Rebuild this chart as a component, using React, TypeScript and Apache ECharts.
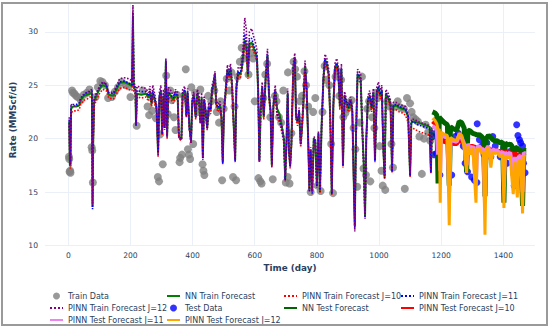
import React, { useEffect, useRef } from "react";
import * as echarts from "echarts";

// ---------- data ----------
const xTicks = [0, 200, 400, 600, 800, 1000, 1200, 1400];
const yTicks = [10, 15, 20, 25, 30];

const trainDays = [
  3, 5, 7, 9, 15, 25, 35, 40, 50, 60,
  70, 76, 78, 80, 83, 90, 100, 110, 122, 130,
  145, 155, 165, 180, 195, 205, 208, 211, 216, 218,
  221, 235, 250, 258, 263, 268, 272, 278, 284, 289,
  293, 298, 302, 306, 310, 314, 318, 322, 330, 338,
  345, 352, 356, 364, 368, 375, 380, 384, 390, 395,
  399, 404, 410, 415, 420, 425, 429, 433, 437, 442,
  447, 452, 458, 463, 468, 472, 476, 482, 488, 493,
  497, 501, 506, 512, 517, 522, 527, 532, 537, 541,
  547, 553, 558, 563, 568, 573, 578, 583, 590, 596,
  602, 607, 611, 615, 619, 624, 629, 635, 641, 646,
  651, 655, 660, 666, 672, 680, 688, 694, 698, 702,
  706, 710, 714, 718, 724, 729, 733, 738, 743, 748,
  752, 757, 762, 767, 772, 776, 780, 785, 790, 795,
  800, 805, 810, 815, 821, 826, 832, 838, 843, 848,
  853, 858, 864, 869, 874, 879, 884, 889, 895, 902,
  908, 914, 918, 922, 926, 931, 936, 941, 946, 951,
  955, 959, 964, 970, 976, 982, 987, 993, 998, 1004,
  1009, 1014, 1018, 1022, 1030, 1037, 1042, 1046, 1055, 1065,
  1075, 1085, 1094, 1100, 1104, 1115, 1125, 1135, 1145, 1155,
  1163, 1167, 1170,
];

const nnTrain = [
  21.6, 17.6, 17.4, 22.8, 23.0, 23.0, 23.1, 23.6, 24.0, 24.1,
  24.2, 24.3, 13.6, 19.5, 23.4, 24.0, 24.6, 25.0, 24.9, 24.1,
  24.0, 24.6, 25.2, 25.3, 25.1, 24.9, 31.5, 24.7, 24.6, 21.3,
  24.2, 24.1, 24.2, 23.8, 24.3, 23.2, 24.3, 23.6, 22.8, 18.6,
  23.8, 24.4, 20.5, 24.0, 21.0, 27.2, 20.2, 24.3, 24.0, 23.6,
  24.2, 23.9, 20.2, 20.0, 24.2, 24.5, 22.2, 24.3, 21.0, 19.8,
  23.5, 24.0, 22.0, 24.2, 23.8, 21.6, 23.8, 18.2, 23.6, 22.5,
  21.0, 23.0, 22.6, 24.5, 25.2, 26.0, 23.2, 22.8, 23.1, 22.0,
  17.8, 22.5, 24.2, 26.4, 25.8, 26.5, 25.0, 21.5, 18.0, 24.8,
  26.2, 26.0, 26.5, 27.8, 29.2, 28.5, 25.8, 28.8, 29.0, 28.5,
  28.0, 27.5, 24.5, 18.0, 22.5, 24.8, 22.0, 25.5, 27.8, 24.0,
  22.5, 17.5, 23.0, 24.5, 22.8, 22.3, 21.0, 20.0, 16.2, 19.5,
  24.2, 19.0, 17.5, 19.5, 26.5, 27.5, 22.0, 21.5, 22.5, 19.5,
  21.0, 23.5, 26.8, 24.5, 20.0, 15.2, 19.0, 15.0, 20.0, 19.8,
  15.6, 20.5, 15.1, 21.0, 25.5, 27.4, 27.0, 26.0, 22.0, 14.9,
  23.0, 26.5, 27.0, 26.2, 23.0, 26.5, 17.5, 24.0, 23.3, 22.8,
  23.5, 22.6, 17.0, 11.8, 20.5, 26.0, 25.8, 25.5, 21.0, 17.5,
  12.7, 20.0, 23.5, 24.0, 22.8, 24.2, 18.0, 24.3, 24.8, 24.0,
  24.5, 19.0, 16.4, 24.2, 23.8, 23.2, 17.0, 23.0, 23.1, 22.9,
  22.8, 22.7, 22.0, 16.6, 21.5, 21.6, 21.5, 21.4, 21.3, 21.2,
  21.1, 16.9, 21.0,
];

const pinnTrain10 = [
  21.2, 17.4, 17.2, 22.4, 22.6, 22.6, 22.7, 23.2, 23.6, 23.7,
  23.9, 23.9, 14.0, 19.2, 23.0, 23.6, 24.2, 24.6, 24.5, 23.8,
  23.7, 24.2, 24.7, 24.8, 24.6, 24.5, 30.5, 24.3, 24.2, 21.5,
  23.9, 23.8, 23.9, 23.5, 24.0, 23.0, 24.0, 23.3, 22.5, 18.3,
  23.5, 24.1, 20.3, 23.8, 20.8, 26.8, 20.0, 24.0, 23.7, 23.3,
  23.9, 23.6, 20.0, 19.8, 23.9, 24.2, 22.0, 24.0, 20.8, 19.6,
  23.2, 23.7, 21.8, 23.9, 23.5, 21.4, 23.5, 18.0, 23.3, 22.2,
  20.8, 22.7, 22.3, 24.2, 24.9, 25.6, 22.9, 22.5, 22.8, 21.8,
  17.6, 22.2, 23.9, 26.0, 25.5, 26.1, 24.7, 21.3, 17.8, 24.5,
  25.9, 25.7, 26.2, 27.4, 28.8, 28.2, 25.6, 28.5, 28.7, 28.2,
  27.7, 27.2, 24.2, 17.8, 22.2, 24.5, 21.8, 25.2, 27.4, 23.7,
  22.3, 17.3, 22.7, 24.2, 22.0, 21.5, 20.5, 19.5, 16.0, 19.0,
  23.8, 18.7, 17.2, 19.2, 26.1, 27.1, 21.7, 21.2, 22.2, 19.2,
  20.7, 23.2, 26.4, 24.2, 19.7, 15.0, 18.7, 14.8, 19.7, 19.5,
  15.4, 20.2, 14.9, 20.7, 25.1, 27.0, 26.6, 25.7, 21.7, 14.7,
  22.7, 26.1, 26.6, 25.9, 22.7, 26.1, 17.3, 23.7, 23.0, 22.5,
  23.2, 22.3, 16.8, 12.0, 20.2, 25.6, 25.4, 25.2, 20.8, 17.3,
  12.9, 19.7, 23.2, 23.7, 22.5, 23.9, 17.8, 24.0, 24.5, 23.7,
  24.2, 18.8, 16.2, 23.9, 23.5, 22.9, 16.8, 22.7, 22.7, 22.5,
  22.4, 22.2, 21.5, 16.4, 21.0, 20.9, 20.7, 20.6, 20.5, 20.4,
  20.3, 16.7, 20.2,
];

const pinnTrain11 = [
  21.8, 17.8, 17.6, 23.1, 23.2, 23.2, 23.3, 23.8, 24.1, 24.3,
  24.4, 24.5, 13.4, 19.8, 23.6, 24.2, 24.8, 25.2, 25.1, 24.3,
  24.2, 24.8, 25.3, 25.4, 25.2, 25.0, 31.8, 24.9, 24.8, 21.2,
  24.5, 24.4, 24.4, 24.0, 24.5, 23.4, 24.5, 23.8, 23.0, 18.5,
  24.0, 24.6, 20.4, 24.2, 21.0, 27.3, 20.1, 24.4, 24.1, 23.8,
  24.4, 24.0, 20.1, 19.9, 24.3, 24.6, 22.1, 24.4, 20.9, 19.7,
  23.6, 24.1, 22.0, 24.3, 23.9, 21.5, 23.9, 18.1, 23.7, 22.6,
  20.9, 23.1, 22.7, 24.6, 25.3, 26.1, 23.3, 22.9, 23.2, 22.0,
  17.7, 22.6, 24.3, 26.5, 25.9, 26.6, 25.1, 21.4, 17.9, 24.9,
  26.3, 26.1, 26.6, 28.0, 29.8, 28.9, 26.0, 29.2, 29.4, 28.8,
  28.3, 27.8, 24.6, 17.9, 22.6, 24.9, 22.1, 25.6, 27.9, 24.1,
  22.6, 17.4, 23.1, 24.6, 22.3, 21.8, 20.8, 19.8, 16.1, 19.3,
  24.3, 18.9, 17.4, 19.4, 26.6, 27.6, 22.1, 21.6, 22.6, 19.4,
  21.1, 23.6, 26.9, 24.6, 19.9, 15.1, 18.9, 14.9, 19.9, 19.7,
  15.5, 20.4, 15.0, 21.0, 25.6, 27.5, 27.1, 26.1, 22.0, 14.8,
  23.1, 26.6, 27.1, 26.3, 23.1, 26.6, 17.4, 24.1, 23.4, 22.9,
  23.6, 22.7, 16.9, 11.7, 20.4, 26.1, 25.9, 25.6, 21.0, 17.4,
  12.6, 19.9, 23.6, 24.1, 22.9, 24.3, 17.9, 24.4, 24.9, 24.1,
  24.6, 18.9, 16.3, 24.3, 23.9, 23.3, 16.9, 23.1, 23.2, 23.0,
  22.9, 22.8, 22.1, 16.5, 21.6, 21.5, 21.3, 21.2, 21.1, 21.0,
  20.9, 16.8, 20.8,
];

const pinnTrain12 = [
  22.0, 17.5, 17.5, 23.2, 23.1, 23.0, 23.2, 23.7, 24.2, 24.3,
  24.5, 24.6, 13.8, 19.6, 23.5, 24.2, 24.9, 25.3, 25.1, 24.4,
  24.3, 24.9, 25.6, 25.7, 25.6, 25.4, 32.5, 25.2, 25.0, 21.2,
  24.9, 24.8, 24.7, 24.3, 24.9, 23.5, 25.0, 24.2, 23.2, 18.8,
  24.3, 25.0, 20.6, 24.6, 21.2, 27.5, 20.3, 24.8, 24.5, 24.0,
  24.6, 24.3, 20.0, 19.9, 24.6, 24.9, 22.0, 24.7, 20.8, 19.6,
  23.9, 24.4, 22.2, 24.6, 24.2, 21.5, 24.3, 18.3, 24.0, 22.8,
  21.0, 23.4, 23.0, 25.0, 25.6, 26.3, 23.6, 23.2, 23.5, 22.2,
  17.9, 22.9, 24.7, 26.9, 26.2, 27.0, 25.4, 21.5, 18.1, 25.3,
  26.7, 26.6, 27.2, 28.8, 31.3, 30.2, 26.4, 30.0, 30.3, 29.6,
  29.0, 28.3, 24.9, 17.8, 22.9, 25.3, 22.3, 26.0, 28.4, 24.4,
  22.8, 17.6, 23.4, 25.0, 22.5, 22.0, 21.2, 20.0, 16.3, 19.6,
  24.7, 19.1, 17.6, 19.7, 27.0, 28.0, 22.3, 21.8, 22.9, 19.6,
  21.3, 24.0, 27.3, 25.0, 20.1, 15.3, 19.2, 15.1, 20.2, 20.0,
  15.7, 20.7, 15.2, 21.3, 26.0, 27.9, 27.5, 26.5, 22.2, 15.0,
  23.4, 27.0, 27.5, 26.7, 23.4, 27.0, 17.6, 24.4, 23.7, 23.2,
  23.9, 23.0, 17.0, 11.3, 20.6, 26.5, 26.3, 26.0, 21.2, 17.6,
  12.5, 20.1, 24.0, 24.5, 23.2, 24.7, 18.1, 24.8, 25.3, 24.5,
  25.0, 19.1, 16.5, 24.6, 24.2, 23.6, 17.1, 23.4, 23.4, 23.2,
  23.1, 23.0, 22.3, 16.7, 21.8, 21.8, 21.6, 21.5, 21.4, 21.3,
  21.2, 17.0, 21.1,
];

const testDays = [
  1172, 1180, 1186, 1190, 1194, 1197, 1200, 1210, 1220, 1226,
  1230, 1240, 1250, 1258, 1266, 1274, 1282, 1286, 1294, 1302,
  1312, 1316, 1322, 1330, 1336, 1341, 1345, 1352, 1360, 1366,
  1372, 1380, 1390, 1398, 1402, 1406, 1414, 1422, 1428, 1432,
  1438, 1445, 1450, 1456, 1462, 1466, 1470,
];

const nnTest = [
  22.5, 22.4, 22.2, 15.8, 22.0, 21.9, 21.8, 21.5, 21.3, 15.6,
  21.1, 20.9, 20.8, 21.6, 21.5, 21.0, 16.9, 20.8, 20.7, 20.5,
  20.4, 20.3, 20.4, 20.2, 20.0, 14.6, 20.0, 20.3, 20.1, 19.9,
  19.8, 19.8, 19.6, 19.7, 14.0, 19.6, 19.4, 19.5, 19.3, 16.5,
  19.2, 19.1, 18.9, 19.0, 13.7, 19.0, 18.9,
];

const pinnTest10 = [
  21.6, 21.4, 21.2, 20.3, 20.0, 19.8, 19.7, 19.7, 19.6, 19.2,
  19.6, 19.5, 19.5, 19.8, 19.7, 19.4, 19.0, 19.4, 19.3, 19.3,
  19.2, 19.1, 19.2, 19.1, 19.0, 18.5, 19.0, 19.1, 19.0, 18.9,
  18.9, 18.9, 18.8, 18.8, 18.4, 18.8, 18.7, 18.7, 18.6, 18.4,
  18.6, 18.5, 18.5, 18.5, 18.0, 18.5, 18.4,
];

const pinnTest11 = [
  21.2, 21.0, 20.8, 18.5, 20.6, 17.0, 20.4, 20.2, 20.1, 15.0,
  19.9, 19.8, 19.7, 20.3, 20.1, 19.5, 17.5, 19.5, 19.0, 19.3,
  16.0, 19.2, 19.3, 19.0, 19.0, 14.0, 19.0, 19.3, 18.0, 19.0,
  18.9, 18.9, 18.6, 18.8, 15.5, 18.7, 18.5, 18.7, 17.5, 16.0,
  18.3, 16.5, 18.3, 18.4, 15.0, 18.7, 18.6,
];

const pinnTest12 = [
  21.9, 21.7, 21.4, 20.8, 20.9, 14.0, 20.6, 20.4, 20.3, 11.9,
  20.1, 19.9, 19.8, 20.5, 20.3, 19.2, 16.8, 19.4, 18.5, 19.2,
  14.0, 19.0, 19.1, 18.6, 18.8, 11.0, 18.9, 19.2, 17.3, 18.8,
  18.6, 18.7, 18.3, 18.5, 13.5, 18.4, 18.2, 18.4, 16.2, 14.8,
  17.8, 14.5, 17.9, 18.0, 13.0, 18.4, 18.3,
];

const trainDataDays = [
  2, 3, 4, 6, 7, 12, 15, 20, 25, 30,
  40, 50, 60, 68, 75, 77, 79, 88, 95, 103,
  110, 118, 128, 140, 150, 160, 172, 185, 195, 200,
  220, 240, 255, 260, 270, 282, 288, 292, 296, 304,
  315, 320, 328, 333, 340, 345, 350, 358, 360, 366,
  372, 378, 385, 388, 392, 396, 402, 408, 412, 418,
  425, 432, 435, 438, 445, 450, 460, 470, 478, 485,
  490, 495, 500, 510, 518, 525, 530, 535, 540, 545,
  552, 558, 565, 575, 580, 588, 595, 600, 612, 618,
  622, 628, 634, 640, 650, 658, 665, 670, 678, 685,
  692, 700, 706, 707, 712, 718, 725, 730, 736, 745,
  752, 760, 765, 772, 780, 788, 795, 802, 812, 818,
  825, 830, 840, 846, 852, 860, 866, 872, 878, 885,
  892, 898, 905, 912, 918, 924, 930, 938, 945, 950,
  958, 962, 968, 972, 978, 985, 990, 996, 1002, 1008,
  1012, 1020, 1026, 1034, 1040, 1045, 1052, 1060, 1070, 1080,
  1083, 1090, 1100, 1105, 1110, 1118, 1125, 1130, 1138, 1145,
  1150, 1158, 1165,
];

const trainDataRates = [
  18.3, 18.1, 16.9, 17.0, 16.8, 24.5, 24.3, 24.2, 24.0, 23.9,
  23.6, 24.1, 24.3, 24.6, 19.2, 18.9, 15.9, 23.9, 24.8, 25.4,
  25.3, 25.0, 23.8, 23.9, 24.4, 24.8, 25.3, 25.0, 24.9, 23.9,
  21.2, 24.5, 23.0, 22.2, 22.6, 21.9, 16.4, 16.0, 20.4, 17.6,
  25.9, 22.3, 24.5, 23.6, 22.0, 20.8, 24.1, 17.8, 18.2, 18.5,
  24.0, 26.5, 19.0, 18.5, 18.1, 24.8, 19.5, 24.3, 23.5, 22.5,
  24.6, 17.6, 17.0, 16.6, 22.3, 24.0, 23.5, 24.5, 22.5, 21.5,
  23.5, 16.1, 22.8, 25.6, 24.5, 26.2, 16.4, 23.0, 16.1, 25.8,
  27.2, 28.5, 27.5, 28.6, 26.0, 28.0, 27.5, 23.5, 16.3, 16.0,
  15.8, 23.8, 26.0, 27.0, 22.0, 16.2, 24.0, 23.5, 22.0, 21.5,
  24.5, 15.9, 16.4, 26.2, 15.8, 20.5, 27.2, 26.5, 25.8, 23.5,
  24.0, 26.3, 25.0, 23.0, 15.0, 22.5, 23.8, 15.6, 15.1, 22.5,
  26.8, 25.5, 25.0, 19.5, 14.9, 25.8, 26.3, 24.0, 25.5, 22.0,
  22.4, 22.8, 23.3, 23.6, 21.0, 19.0, 15.5, 21.5, 25.8, 17.2,
  16.6, 22.8, 23.5, 16.0, 22.0, 21.0, 24.3, 23.8, 19.3, 17.0,
  15.6, 15.2, 23.5, 23.0, 19.5, 17.3, 23.0, 23.5, 22.9, 22.8,
  15.3, 23.8, 23.3, 22.5, 22.0, 21.8, 21.6, 20.2, 16.7, 20.0,
  21.3, 20.6, 19.8,
];

const testDataDays = [
  1173, 1177, 1181, 1185, 1196, 1207, 1234, 1245, 1255, 1266,
  1271, 1277, 1285, 1298, 1307, 1315, 1316, 1323, 1331, 1338,
  1347, 1360, 1366, 1374, 1390, 1401, 1412, 1422, 1435, 1438,
  1443, 1447, 1452, 1456, 1462, 1465, 1470,
];

const testDataRates = [
  20.2, 18.5, 20.5, 18.6, 16.6, 20.0, 16.6, 20.2, 20.5, 19.9,
  19.3, 17.7, 16.9, 16.4, 16.1, 15.9, 21.4, 19.9, 19.3, 18.5,
  19.6, 18.3, 20.2, 19.3, 18.3, 19.1, 17.7, 18.8, 15.6, 16.1,
  21.3, 20.3, 19.9, 19.6, 19.3, 17.7, 16.8,
];

const legendColumns = [
  ["Train Data", "PINN Train Forecast J=12", "PINN Test Forecast J=11"],
  ["NN Train Forecast", "Test Data", "PINN Test Forecast J=12"],
  ["PINN Train Forecast J=10", "NN Test Forecast"],
  ["PINN Train Forecast J=11", "PINN Test Forecast J=10"],
];
const legendLefts = [49, 166, 283, 400];
const markerNames = ["Train Data", "Test Data"];

// ---------- helpers ----------
const pair = (xs: number[], ys: number[]) => xs.map((x, i) => [x, ys[i]]);
const TEXT = "#2a3f5f";
const GRID = "#EBF0F8";
const FONT = "'DejaVu Sans', Verdana, sans-serif";

function lineSeries(name: string, data: number[][], color: string, width: number, type: string) {
  return {
    name,
    type: "line",
    data,
    symbol: "none",
    showSymbol: false,
    lineStyle: { color, width, type },
    itemStyle: { color },
    emphasis: { disabled: true },
  };
}

export default function App() {
  const ref = useRef<HTMLDivElement>(null);
  useEffect(() => {
    if (!ref.current) return;
    const chart = echarts.init(ref.current, undefined, { renderer: "svg" });
    chart.setOption({
      animation: false,
      backgroundColor: "#ffffff",
      grid: { left: 45, right: 15, top: 4, bottom: 82 },
      xAxis: {
        type: "value",
        min: -75,
        max: 1502,
        name: "Time (day)",
        nameLocation: "middle",
        nameGap: 17,
        nameTextStyle: { color: TEXT, fontSize: 8.8, fontWeight: "bold", fontFamily: FONT },
        axisLine: { show: false },
        axisTick: { show: false, customValues: xTicks },
        axisLabel: {
          customValues: xTicks,
          formatter: (v: number) => String(v),
          color: TEXT,
          fontSize: 7.6,
          fontFamily: FONT,
          margin: 5,
        },
        splitLine: { show: true, lineStyle: { color: GRID, width: 1 } },
      },
      yAxis: {
        type: "value",
        min: 9.95,
        max: 32.6,
        name: "Rate (MMScf/d)",
        nameLocation: "middle",
        nameGap: 21,
        nameTextStyle: {
          color: TEXT,
          fontSize: 8.8,
          fontWeight: "bold",
          fontFamily: FONT,
          padding: [0, 0, 0, 10],
        },
        axisLine: { show: false },
        axisTick: { show: false, customValues: yTicks },
        axisLabel: {
          customValues: yTicks,
          formatter: (v: number) => String(v),
          color: TEXT,
          fontSize: 7.6,
          fontFamily: FONT,
          margin: 7,
        },
        splitLine: { show: true, lineStyle: { color: GRID, width: 1 } },
      },
      legend: legendColumns.map((names, i) => ({
        data: names.map((n) =>
          markerNames.includes(n) ? { name: n } : { name: n, itemStyle: { opacity: 0 } }
        ),
        orient: "vertical",
        left: legendLefts[i],
        top: 290,
        padding: 0,
        itemGap: 0,
        itemWidth: 13,
        itemHeight: 7,
        selectedMode: false,
        textStyle: { color: TEXT, fontSize: 8, lineHeight: 12, fontFamily: FONT },
      })),
      graphic: [
        {
          type: "rect",
          silent: true,
          z: 100,
          shape: { x: 2, y: 3, width: 545, height: 322 },
          style: { fill: "none", stroke: "#9a9a9a", lineWidth: 2 },
        },
      ],
      series: [
        {
          name: "Train Data",
          type: "scatter",
          data: pair(trainDataDays, trainDataRates),
          symbolSize: 8,
          itemStyle: { color: "#808080" },
          emphasis: { disabled: true },
        },
        lineSeries("NN Train Forecast", pair(trainDays, nnTrain), "#008000", 2, "solid"),
        lineSeries("PINN Train Forecast J=10", pair(trainDays, pinnTrain10), "#ff0000", 1.6, "dotted"),
        lineSeries("PINN Train Forecast J=11", pair(trainDays, pinnTrain11), "#0000ff", 1.6, "dotted"),
        lineSeries("PINN Train Forecast J=12", pair(trainDays, pinnTrain12), "#800080", 1.6, "dotted"),
        {
          name: "Test Data",
          type: "scatter",
          data: pair(testDataDays, testDataRates),
          symbolSize: 7,
          itemStyle: { color: "#0000ff" },
          emphasis: { disabled: true },
        },
        lineSeries("NN Test Forecast", pair(testDays, nnTest), "#006400", 5, "solid"),
        lineSeries("PINN Test Forecast J=10", pair(testDays, pinnTest10), "#ff0000", 4, "solid"),
        lineSeries("PINN Test Forecast J=11", pair(testDays, pinnTest11), "#ee82ee", 4, "solid"),
        lineSeries("PINN Test Forecast J=12", pair(testDays, pinnTest12), "#ffa500", 3, "solid"),
      ],
    });
    return () => chart.dispose();
  }, []);
  return (
    <div
      ref={ref}
      style={{ position: "fixed", left: 0, top: 0, width: 550, height: 328 }}
    />
  );
}
